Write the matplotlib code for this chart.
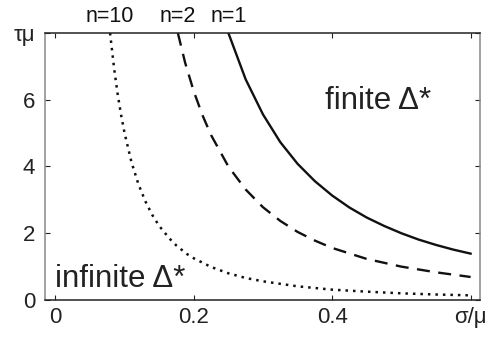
import numpy as np
import matplotlib
matplotlib.use("Agg")
import matplotlib.pyplot as plt

plt.rcParams['font.family'] = ['Liberation Sans', 'DejaVu Sans']

# values (sigma/mu, tau*mu)
x_n1 = [0.25, 0.275, 0.3, 0.325, 0.35, 0.375, 0.4, 0.425, 0.45, 0.475, 0.5, 0.525, 0.55, 0.575, 0.6]
y_n1 = [8.0, 6.61, 5.56, 4.73, 4.08, 3.56, 3.13, 2.77, 2.47, 2.22, 2.0, 1.81, 1.65, 1.51, 1.39]

x_n2 = [0.177, 0.1875, 0.2, 0.2125, 0.225, 0.25, 0.275, 0.3, 0.325, 0.35, 0.375, 0.4, 0.45, 0.5, 0.55, 0.6]
y_n2 = [8.0, 7.11, 6.25, 5.54, 4.94, 4.0, 3.31, 2.78, 2.37, 2.04, 1.78, 1.56, 1.23, 1.0, 0.83, 0.69]

x_n10 = [0.079, 0.085, 0.09, 0.095, 0.1, 0.11, 0.12, 0.13, 0.14, 0.15, 0.165, 0.175, 0.19, 0.2, 0.225,
         0.25, 0.275, 0.3, 0.35, 0.4, 0.45, 0.5, 0.55, 0.6]
y_n10 = [8.0, 6.92, 6.17, 5.54, 5.0, 4.13, 3.47, 2.96, 2.55, 2.22, 1.84, 1.63, 1.38, 1.25, 0.99,
         0.8, 0.66, 0.56, 0.41, 0.31, 0.25, 0.2, 0.165, 0.14]

curve_labels = ['n=1', 'n=2', 'n=10']
xticks = [0, 0.2, 0.4, 0.6]
xticklabels = ['0', '0.2', '0.4', 'σ/μ']
yticks = [0, 2, 4, 6, 8]
yticklabels = ['0', '2', '4', '6', 'τμ']

fig = plt.figure(figsize=(4.88, 3.38), dpi=100)
ax = fig.add_axes([0.0922, 0.1124, 0.8914, 0.79])

ax.plot(x_n1, y_n1, color='#111111', lw=1.7, ls='-')
ax.plot(x_n2, y_n2, color='#111111', lw=1.7, ls=(0, (5.5, 3.6)))
ax.plot(x_n10, y_n10, color='#111111', lw=1.8, ls=(0, (1.0, 2.0)))

for xs, lab in zip([x_n1, x_n2, x_n10], curve_labels):
    ax.annotate(lab, xy=(xs[0], 8), xytext=(0, 4), textcoords='offset points',
                ha='center', va='bottom', fontsize=15.5, color='#111111',
                annotation_clip=False)

ax.text(0.39, 5.71, 'finite Δ*', fontsize=22.5, color='#222222', va='baseline', ha='left')
ax.text(0.0, 0.4, 'infinite Δ*', fontsize=22.5, color='#222222', va='baseline', ha='left')

ax.set_xlim(-0.015, 0.6136)
ax.set_ylim(0, 8)
ax.set_xticks(xticks)
ax.set_xticklabels(xticklabels)
ax.set_yticks(yticks)
ax.set_yticklabels(yticklabels)
ax.tick_params(direction='in', length=3.5, width=0.8, top=True, right=True,
               labelsize=16, colors='#222222')
ax.tick_params(axis='y', pad=7)
ax.tick_params(axis='x', pad=5)

ax.spines['left'].set_color('#888888')
ax.spines['right'].set_color('#888888')
ax.spines['top'].set_color('#222222')
ax.spines['bottom'].set_color('#222222')
for s in ax.spines.values():
    s.set_linewidth(1.1)

fig.savefig('out.png', dpi=100)
